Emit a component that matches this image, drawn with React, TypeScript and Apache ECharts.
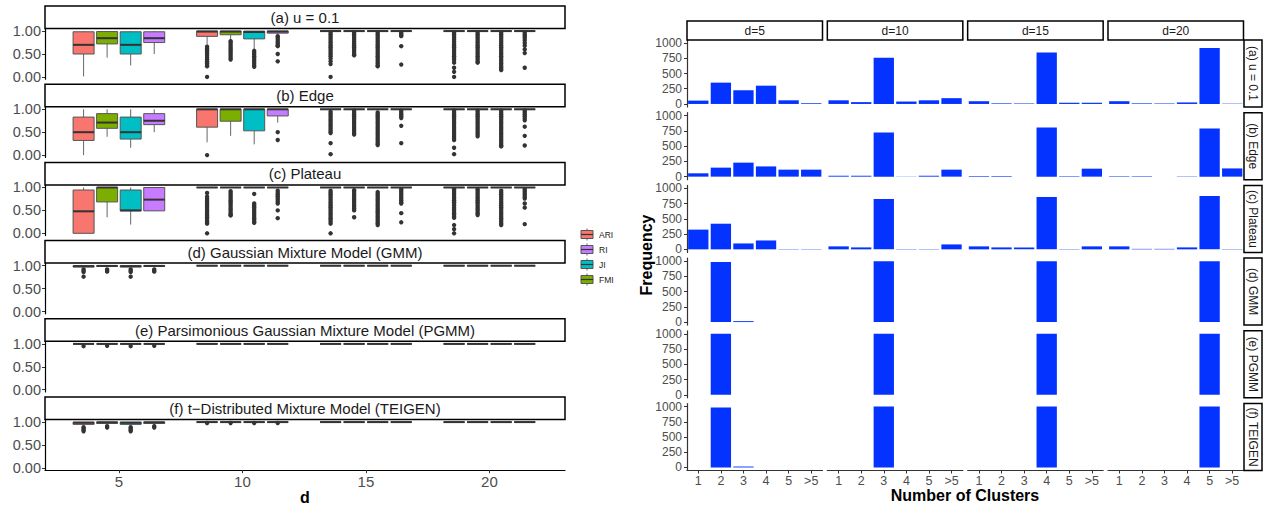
import React, { useEffect, useRef } from "react";
import * as echarts from "echarts";

const FONT = "'Liberation Sans', Arial, Helvetica, sans-serif";

// ---------- Left chart: boxplots ----------
const METRICS = ["ARI", "FMI", "JI", "RI"];
const METRIC_COLORS = ["#F8766D", "#7CAE00", "#00BFC4", "#C77CFF"];
const LEGEND_ORDER = ["ARI", "RI", "JI", "FMI"];
const SCORE_TICKS = [0, 0.25, 0.5, 0.75, 1];
const D_TICKS = [5, 10, 15, 20];
const BOX_PANELS = [
  "(a) u = 0.1",
  "(b) Edge",
  "(c) Plateau",
  "(d) Gaussian Mixture Model (GMM)",
  "(e) Parsimonious Gaussian Mixture Model (PGMM)",
  "(f) t\u2212Distributed Mixture Model (TEIGEN)",
];

// [d, metric, min, q1, median, q3, max]
const BOX_U01 = [
  [5, "ARI", 0.01, 0.5, 0.7, 0.985, 1], [5, "FMI", 0.42, 0.72, 0.845, 0.99, 1],
  [5, "JI", 0.25, 0.5, 0.7, 0.985, 1], [5, "RI", 0.5, 0.75, 0.845, 0.985, 1],
  [10, "ARI", 0.7, 0.885, 0.99, 1, 1], [10, "FMI", 0.8, 0.92, 0.99, 1, 1],
  [10, "JI", 0.61, 0.83, 0.98, 1, 1], [10, "RI", 0.93, 0.955, 0.99, 1, 1],
  [15, "ARI", 1, 1, 1, 1, 1], [15, "FMI", 1, 1, 1, 1, 1], [15, "JI", 1, 1, 1, 1, 1], [15, "RI", 1, 1, 1, 1, 1],
  [20, "ARI", 1, 1, 1, 1, 1], [20, "FMI", 1, 1, 1, 1, 1], [20, "JI", 1, 1, 1, 1, 1], [20, "RI", 1, 1, 1, 1, 1],
];
const BOX_EDGE = [
  [5, "ARI", 0, 0.32, 0.5, 0.83, 1], [5, "FMI", 0.4, 0.585, 0.71, 0.905, 1],
  [5, "JI", 0.16, 0.35, 0.5, 0.83, 1], [5, "RI", 0.5, 0.665, 0.75, 0.905, 1],
  [10, "ARI", 0.28, 0.61, 1, 1, 1], [10, "FMI", 0.42, 0.74, 1, 1, 1],
  [10, "JI", 0.235, 0.53, 1, 1, 1], [10, "RI", 0.71, 0.855, 1, 1, 1],
  [15, "ARI", 1, 1, 1, 1, 1], [15, "FMI", 1, 1, 1, 1, 1], [15, "JI", 1, 1, 1, 1, 1], [15, "RI", 1, 1, 1, 1, 1],
  [20, "ARI", 1, 1, 1, 1, 1], [20, "FMI", 1, 1, 1, 1, 1], [20, "JI", 1, 1, 1, 1, 1], [20, "RI", 1, 1, 1, 1, 1],
];
const BOX_PLATEAU = [
  [5, "ARI", 0, 0, 0.48, 0.945, 1], [5, "FMI", 0.35, 0.685, 1, 1, 1],
  [5, "JI", 0.19, 0.49, 0.5, 0.945, 1], [5, "RI", 0.49, 0.49, 0.735, 1, 1],
  [10, "ARI", 1, 1, 1, 1, 1], [10, "FMI", 1, 1, 1, 1, 1], [10, "JI", 1, 1, 1, 1, 1], [10, "RI", 1, 1, 1, 1, 1],
  [15, "ARI", 1, 1, 1, 1, 1], [15, "FMI", 1, 1, 1, 1, 1], [15, "JI", 1, 1, 1, 1, 1], [15, "RI", 1, 1, 1, 1, 1],
  [20, "ARI", 1, 1, 1, 1, 1], [20, "FMI", 1, 1, 1, 1, 1], [20, "JI", 1, 1, 1, 1, 1], [20, "RI", 1, 1, 1, 1, 1],
];
const BOX_GMM = [
  [5, "ARI", 0.96, 0.97, 0.99, 1, 1], [5, "FMI", 0.975, 0.985, 0.995, 1, 1],
  [5, "JI", 0.96, 0.97, 0.99, 1, 1], [5, "RI", 0.975, 0.985, 0.995, 1, 1],
  [10, "ARI", 1, 1, 1, 1, 1], [10, "FMI", 1, 1, 1, 1, 1], [10, "JI", 1, 1, 1, 1, 1], [10, "RI", 1, 1, 1, 1, 1],
  [15, "ARI", 1, 1, 1, 1, 1], [15, "FMI", 1, 1, 1, 1, 1], [15, "JI", 1, 1, 1, 1, 1], [15, "RI", 1, 1, 1, 1, 1],
  [20, "ARI", 1, 1, 1, 1, 1], [20, "FMI", 1, 1, 1, 1, 1], [20, "JI", 1, 1, 1, 1, 1], [20, "RI", 1, 1, 1, 1, 1],
];
const BOX_PGMM = [
  [5, "ARI", 1, 1, 1, 1, 1], [5, "FMI", 1, 1, 1, 1, 1], [5, "JI", 1, 1, 1, 1, 1], [5, "RI", 1, 1, 1, 1, 1],
  [10, "ARI", 1, 1, 1, 1, 1], [10, "FMI", 1, 1, 1, 1, 1], [10, "JI", 1, 1, 1, 1, 1], [10, "RI", 1, 1, 1, 1, 1],
  [15, "ARI", 1, 1, 1, 1, 1], [15, "FMI", 1, 1, 1, 1, 1], [15, "JI", 1, 1, 1, 1, 1], [15, "RI", 1, 1, 1, 1, 1],
  [20, "ARI", 1, 1, 1, 1, 1], [20, "FMI", 1, 1, 1, 1, 1], [20, "JI", 1, 1, 1, 1, 1], [20, "RI", 1, 1, 1, 1, 1],
];
const BOX_TEIGEN = [
  [5, "ARI", 0.93, 0.95, 0.985, 1, 1], [5, "FMI", 0.95, 0.97, 0.995, 1, 1],
  [5, "JI", 0.93, 0.95, 0.985, 1, 1], [5, "RI", 0.95, 0.97, 0.995, 1, 1],
  [10, "ARI", 1, 1, 1, 1, 1], [10, "FMI", 1, 1, 1, 1, 1], [10, "JI", 1, 1, 1, 1, 1], [10, "RI", 1, 1, 1, 1, 1],
  [15, "ARI", 1, 1, 1, 1, 1], [15, "FMI", 1, 1, 1, 1, 1], [15, "JI", 1, 1, 1, 1, 1], [15, "RI", 1, 1, 1, 1, 1],
  [20, "ARI", 1, 1, 1, 1, 1], [20, "FMI", 1, 1, 1, 1, 1], [20, "JI", 1, 1, 1, 1, 1], [20, "RI", 1, 1, 1, 1, 1],
];

// outliers: [d, metric, values]
const OUT_U01 = [
  [10, "ARI", [0.66, 0.62, 0.58, 0.54, 0.5, 0.46, 0.42, 0.38, 0.34, 0.3, 0.26, 0.23, 0]],
  [10, "FMI", [0.78, 0.74, 0.7, 0.66, 0.62, 0.58, 0.54, 0.5, 0.46, 0.42, 0.38]],
  [10, "JI", [0.57, 0.53, 0.49, 0.45, 0.41, 0.37, 0.33, 0.29, 0.25, 0.22]],
  [10, "RI", [0.89, 0.85, 0.81, 0.77, 0.73, 0.69, 0.67, 0.5, 0.34]],
  [15, "ARI", [0.97, 0.93, 0.89, 0.85, 0.81, 0.77, 0.73, 0.69, 0.65, 0.61, 0.57, 0.53, 0.49, 0.45, 0.4, 0.34, 0.28, 0]],
  [15, "FMI", [0.97, 0.93, 0.89, 0.85, 0.81, 0.77, 0.73, 0.69, 0.65, 0.61, 0.57, 0.53, 0.49, 0.47]],
  [15, "JI", [0.97, 0.93, 0.89, 0.85, 0.81, 0.77, 0.73, 0.69, 0.65, 0.61, 0.57, 0.53, 0.49, 0.45, 0.41, 0.37, 0.33, 0.29, 0.25, 0.23]],
  [15, "RI", [0.97, 0.94, 0.91, 0.89, 0.67, 0.27]],
  [20, "ARI", [0.97, 0.93, 0.89, 0.85, 0.81, 0.77, 0.73, 0.69, 0.65, 0.61, 0.57, 0.53, 0.49, 0.45, 0.41, 0.37, 0.31, 0.2, 0.11, 0]],
  [20, "FMI", [0.97, 0.93, 0.89, 0.85, 0.81, 0.77, 0.73, 0.69, 0.65, 0.61, 0.57, 0.53, 0.49, 0.45, 0.41, 0.37, 0.33, 0.31]],
  [20, "JI", [0.97, 0.93, 0.89, 0.85, 0.81, 0.77, 0.73, 0.69, 0.65, 0.61, 0.57, 0.53, 0.49, 0.45, 0.41, 0.37, 0.33, 0.29, 0.25, 0.21, 0.17, 0.15]],
  [20, "RI", [0.97, 0.93, 0.89, 0.85, 0.8, 0.74, 0.68, 0.6, 0.52, 0.2]],
];
const OUT_EDGE = [
  [10, "ARI", [0]],
  [10, "RI", [0.5, 0.33]],
  [15, "ARI", [0.95, 0.91, 0.87, 0.83, 0.79, 0.75, 0.71, 0.67, 0.63, 0.59, 0.55, 0.51, 0.48, 0.26, 0.02]],
  [15, "FMI", [0.97, 0.93, 0.89, 0.85, 0.81, 0.77, 0.73, 0.69, 0.65, 0.61, 0.57, 0.53, 0.49, 0.45]],
  [15, "JI", [0.93, 0.89, 0.85, 0.81, 0.77, 0.73, 0.69, 0.65, 0.61, 0.57, 0.53, 0.49, 0.45, 0.41, 0.37, 0.33, 0.29, 0.25, 0.22]],
  [15, "RI", [0.97, 0.93, 0.89, 0.85, 0.81, 0.64, 0.26]],
  [20, "ARI", [0.97, 0.93, 0.89, 0.85, 0.81, 0.77, 0.73, 0.69, 0.65, 0.61, 0.57, 0.53, 0.49, 0.45, 0.41, 0.37, 0.33, 0.16, 0.02]],
  [20, "FMI", [0.97, 0.93, 0.89, 0.85, 0.81, 0.77, 0.73, 0.69, 0.65, 0.61, 0.57, 0.53, 0.49, 0.45, 0.41]],
  [20, "JI", [0.97, 0.93, 0.89, 0.85, 0.81, 0.77, 0.73, 0.69, 0.65, 0.61, 0.57, 0.53, 0.49, 0.45, 0.41, 0.37, 0.33, 0.29, 0.25, 0.21, 0.19]],
  [20, "RI", [0.97, 0.93, 0.89, 0.85, 0.8, 0.76, 0.62, 0.42, 0.21]],
];
const OUT_PLATEAU = [
  [10, "ARI", [0.88, 0.8, 0.75, 0.71, 0.67, 0.63, 0.59, 0.55, 0.51, 0.47, 0.43, 0.39, 0.35, 0.31, 0.27, 0.23, 0.21, 0]],
  [10, "FMI", [0.92, 0.88, 0.84, 0.8, 0.76, 0.72, 0.68, 0.64, 0.6, 0.56, 0.52, 0.48, 0.44, 0.4, 0.39]],
  [10, "JI", [0.86, 0.65, 0.61, 0.57, 0.53, 0.49, 0.45, 0.41, 0.37, 0.33, 0.29, 0.25, 0.23]],
  [10, "RI", [0.93, 0.89, 0.85, 0.81, 0.77, 0.73, 0.69, 0.65, 0.5, 0.33]],
  [15, "ARI", [0.93, 0.89, 0.85, 0.81, 0.77, 0.73, 0.69, 0.65, 0.61, 0.57, 0.53, 0.49, 0.45, 0.41, 0.37, 0.33, 0.29, 0.25, 0.21, 0]],
  [15, "FMI", [0.94, 0.9, 0.86, 0.82, 0.78, 0.74, 0.7, 0.66, 0.62, 0.58, 0.54, 0.5, 0.35]],
  [15, "JI", [0.9, 0.86, 0.82, 0.78, 0.74, 0.7, 0.66, 0.62, 0.58, 0.54, 0.5, 0.46, 0.42, 0.38, 0.34, 0.3, 0.26, 0.22, 0.18]],
  [15, "RI", [0.96, 0.92, 0.88, 0.84, 0.8, 0.76, 0.72, 0.68, 0.65, 0.44, 0.24]],
  [20, "ARI", [0.96, 0.92, 0.88, 0.84, 0.8, 0.76, 0.72, 0.68, 0.64, 0.6, 0.56, 0.52, 0.48, 0.44, 0.4, 0.36, 0.34, 0.18, 0.09, 0]],
  [20, "FMI", [0.96, 0.92, 0.88, 0.84, 0.8, 0.76, 0.72, 0.68, 0.64, 0.6, 0.56, 0.52, 0.48, 0.44, 0.4]],
  [20, "JI", [0.93, 0.89, 0.85, 0.81, 0.77, 0.73, 0.69, 0.65, 0.61, 0.57, 0.53, 0.49, 0.45, 0.41, 0.37, 0.33, 0.29, 0.25, 0.21, 0.18]],
  [20, "RI", [0.96, 0.92, 0.88, 0.84, 0.8, 0.76, 0.65, 0.56, 0.2]],
];
const OUT_GMM = [
  [5, "ARI", [0.92, 0.89, 0.86, 0.76]], [5, "FMI", [0.92, 0.89, 0.87]],
  [5, "JI", [0.92, 0.89, 0.86, 0.76]], [5, "RI", [0.92, 0.89, 0.87]],
];
const OUT_PGMM = [
  [5, "ARI", [0.95]], [5, "FMI", [0.96]], [5, "JI", [0.95]], [5, "RI", [0.96]],
];
const OUT_TEIGEN = [
  [5, "ARI", [0.89, 0.86, 0.83, 0.8]], [5, "FMI", [0.91, 0.88]],
  [5, "JI", [0.89, 0.86, 0.83, 0.8]], [5, "RI", [0.91, 0.88]],
  [10, "ARI", [0.98]], [10, "FMI", [0.98]], [10, "JI", [0.98]], [10, "RI", [0.98]],
];

const BOX_DATA = [BOX_U01, BOX_EDGE, BOX_PLATEAU, BOX_GMM, BOX_PGMM, BOX_TEIGEN];
const OUT_DATA = [OUT_U01, OUT_EDGE, OUT_PLATEAU, OUT_GMM, OUT_PGMM, OUT_TEIGEN];

// ---------- Right chart: frequency bars ----------
const CLUSTER_LABELS = ["1", "2", "3", "4", "5", ">5"];
const D_STRIPS = ["d=5", "d=10", "d=15", "d=20"];
const ROW_STRIPS = ["(a) u = 0.1", "(b) Edge", "(c) Plateau", "(d) GMM", "(e) PGMM", "(f) TEIGEN"];
const FREQ_TICKS = [0, 250, 500, 750, 1000];
const FREQ_U01 = [[55, 350, 225, 300, 60, 12], [60, 30, 760, 40, 60, 95], [45, 10, 8, 845, 20, 20], [45, 10, 8, 25, 920, 5]];
const FREQ_EDGE = [[55, 148, 230, 168, 115, 115], [15, 15, 723, 3, 15, 115], [10, 10, 0, 808, 8, 131], [8, 8, 0, 5, 792, 135]];
const FREQ_PLATEAU = [[324, 421, 97, 146, 5, 5], [49, 32, 826, 5, 5, 81], [49, 32, 32, 858, 5, 49], [49, 8, 8, 32, 875, 5]];
const FREQ_GMM = [[0, 985, 15, 0, 0, 0], [0, 0, 1000, 0, 0, 0], [0, 0, 0, 1000, 0, 0], [0, 0, 0, 0, 1000, 0]];
const FREQ_PGMM = [[0, 1000, 0, 0, 0, 0], [0, 0, 1000, 0, 0, 0], [0, 0, 0, 1000, 0, 0], [0, 0, 0, 0, 1000, 0]];
const FREQ_TEIGEN = [[0, 985, 15, 0, 0, 0], [0, 0, 1000, 0, 0, 0], [0, 0, 0, 1000, 0, 0], [0, 0, 0, 0, 1000, 0]];
const FREQ_ROWS = [FREQ_U01, FREQ_EDGE, FREQ_PLATEAU, FREQ_GMM, FREQ_PGMM, FREQ_TEIGEN];

// ---------- layout / style constants ----------
const DODGE = [-1.43, -0.477, 0.477, 1.43];
const BOX_WIDTH = 0.85;
const BAR_COLOR = "#0433ff";
const AXIS_TEXT = "#4d4d4d";

function textEl(x: number, y: number, text: string, size: number, opts: any = {}) {
  return {
    type: "text",
    x,
    y,
    rotation: opts.rotation || 0,
    silent: true,
    z: 100,
    style: {
      text,
      fill: opts.color || "#1a1a1a",
      fontSize: size,
      fontFamily: FONT,
      fontWeight: opts.bold ? "bold" : "normal",
      align: opts.align || "center",
      textAlign: opts.align || "center",
      verticalAlign: "middle",
      textVerticalAlign: "middle",
    },
  };
}

function stripRect(x: number, y: number, w: number, h: number) {
  return {
    type: "rect",
    silent: true,
    z: 90,
    shape: { x, y, width: w, height: h },
    style: { fill: "#ffffff", stroke: "#000000", lineWidth: 1.5 },
  };
}

function renderBox(params: any, api: any) {
  const d = api.value(0);
  const m = api.value(1);
  const xc = d + DODGE[m];
  const pMin = api.coord([xc, api.value(2)]);
  const pQ1 = api.coord([xc, api.value(3)]);
  const pMed = api.coord([xc, api.value(4)]);
  const pQ3 = api.coord([xc, api.value(5)]);
  const pMax = api.coord([xc, api.value(6)]);
  const w = api.size([BOX_WIDTH, 0])[0];
  const cx = pMed[0];
  return {
    type: "group",
    children: [
      { type: "line", shape: { x1: cx, y1: pMax[1], x2: cx, y2: pQ3[1] }, style: { stroke: "#666", lineWidth: 1 } },
      { type: "line", shape: { x1: cx, y1: pQ1[1], x2: cx, y2: pMin[1] }, style: { stroke: "#666", lineWidth: 1 } },
      {
        type: "rect",
        shape: { x: cx - w / 2, y: pQ3[1], width: w, height: Math.max(pQ1[1] - pQ3[1], 0.01) },
        style: { fill: METRIC_COLORS[m], stroke: "#555", lineWidth: 1 },
      },
      { type: "line", shape: { x1: cx - w / 2, y1: pMed[1], x2: cx + w / 2, y2: pMed[1] }, style: { stroke: "#333", lineWidth: 2 } },
    ],
  };
}

function renderOutlier(params: any, api: any) {
  const d = api.value(0);
  const m = api.value(1);
  const p = api.coord([d + DODGE[m], api.value(2)]);
  return { type: "circle", shape: { cx: p[0], cy: p[1], r: 2.2 }, style: { fill: "#333333" } };
}

function buildOption() {
  const grid: any[] = [];
  const xAxis: any[] = [];
  const yAxis: any[] = [];
  const series: any[] = [];
  const elements: any[] = [];

  // ---- left boxplot panels
  const L_X0 = 45;
  const L_W = 520;
  BOX_PANELS.forEach((title, i) => {
    const sTop = 6 + 78.2 * i;
    const pTop = sTop + 22.8;
    const isBottom = i === BOX_PANELS.length - 1;
    grid.push({ left: L_X0, top: pTop, width: L_W, height: 50.4 });
    xAxis.push({
      gridIndex: i,
      type: "value",
      min: 2.008,
      max: 23.06,
      axisLine: { show: isBottom, onZero: false, lineStyle: { color: "#000", width: 1.2 } },
      axisTick: { show: isBottom, customValues: D_TICKS, length: 3, lineStyle: { color: "#333" } },
      axisLabel: { show: isBottom, customValues: D_TICKS, color: AXIS_TEXT, fontSize: 15, fontFamily: FONT, margin: 4 },
      splitLine: { show: false },
    });
    yAxis.push({
      gridIndex: i,
      type: "value",
      min: -0.05,
      max: 1.05,
      axisLine: { show: true, onZero: false, lineStyle: { color: "#000", width: 1.2 } },
      axisTick: { show: true, customValues: SCORE_TICKS, length: 3, lineStyle: { color: "#333" } },
      axisLabel: {
        show: true,
        customValues: SCORE_TICKS,
        formatter: (v: number) => Number(v).toFixed(2),
        color: AXIS_TEXT,
        fontSize: 14.5,
        lineHeight: 12,
        fontFamily: FONT,
        margin: 4,
        showMinLabel: true,
        showMaxLabel: true,
        hideOverlap: false,
      },
      splitLine: { show: false },
    });
    const boxData = BOX_DATA[i].map((r: any) => [r[0], METRICS.indexOf(r[1]), r[2], r[3], r[4], r[5], r[6]]);
    const outData: any[] = [];
    OUT_DATA[i].forEach((o: any) => {
      o[2].forEach((v: number) => outData.push([o[0], METRICS.indexOf(o[1]), v]));
    });
    series.push({
      type: "custom",
      xAxisIndex: i,
      yAxisIndex: i,
      silent: true,
      encode: { x: 0, y: 4 },
      renderItem: renderBox,
      data: boxData,
      z: 2,
    });
    series.push({
      type: "custom",
      xAxisIndex: i,
      yAxisIndex: i,
      silent: true,
      encode: { x: 0, y: 2 },
      renderItem: renderOutlier,
      data: outData,
      z: 3,
    });
    elements.push(stripRect(L_X0, sTop, L_W, 22.5));
    elements.push(textEl(L_X0 + L_W / 2, sTop + 11.5, title, 15));
  });
  elements.push(textEl(305, 497, "d", 16, { bold: true, color: "#000" }));

  // legend (boxplot glyph keys)
  LEGEND_ORDER.forEach((name, k) => {
    const cy = 234.5 + 15 * k;
    const color = METRIC_COLORS[METRICS.indexOf(name)];
    elements.push({ type: "line", silent: true, shape: { x1: 587, y1: cy - 6, x2: 587, y2: cy + 6 }, style: { stroke: "#666", lineWidth: 1 } });
    elements.push({
      type: "rect",
      silent: true,
      shape: { x: 581, y: cy - 4, width: 12, height: 8 },
      style: { fill: color, stroke: "#555", lineWidth: 1 },
    });
    elements.push({ type: "line", silent: true, shape: { x1: 581, y1: cy, x2: 593, y2: cy }, style: { stroke: "#333", lineWidth: 1.2 } });
    elements.push(textEl(599, cy, name, 8.5, { align: "left" }));
  });

  // ---- right frequency bar panels
  const colX = (c: number) => 687 + 140.33 * c;
  const rowY = (r: number) => 40 + 72.7 * r;
  const C_W = 135.5;
  const R_H = 67;
  FREQ_ROWS.forEach((rowVals, r) => {
    rowVals.forEach((vals, c) => {
      const gi = grid.length;
      grid.push({ left: colX(c), top: rowY(r), width: C_W, height: R_H });
      const isBottom = r === FREQ_ROWS.length - 1;
      xAxis.push({
        gridIndex: gi,
        type: "category",
        data: CLUSTER_LABELS,
        boundaryGap: true,
        axisLine: { show: isBottom, onZero: false, lineStyle: { color: "#333", width: 1.2 } },
        axisTick: { show: isBottom, alignWithLabel: true, length: 3, lineStyle: { color: "#333" } },
        axisLabel: { show: isBottom, color: AXIS_TEXT, fontSize: 12.5, fontFamily: FONT, margin: 4, interval: 0 },
        splitLine: { show: false },
      });
      yAxis.push({
        gridIndex: gi,
        type: "value",
        min: -50,
        max: 1050,
        axisLine: { show: c === 0, onZero: false, lineStyle: { color: "#333", width: 1.2 } },
        axisTick: { show: c === 0, customValues: FREQ_TICKS, length: 3, lineStyle: { color: "#333" } },
        axisLabel: {
          show: c === 0,
          customValues: FREQ_TICKS,
          formatter: (v: number) => String(Math.round(v)),
          color: AXIS_TEXT,
          fontSize: 12,
          fontFamily: FONT,
          margin: 5,
          showMinLabel: true,
          showMaxLabel: true,
        },
        splitLine: { show: false },
      });
      series.push({
        type: "bar",
        xAxisIndex: gi,
        yAxisIndex: gi,
        data: vals,
        barWidth: "90%",
        silent: true,
        itemStyle: { color: BAR_COLOR },
      });
    });
    elements.push(stripRect(1244, rowY(r), 18, R_H));
    elements.push(textEl(1253, rowY(r) + R_H / 2, ROW_STRIPS[r], 12, { rotation: -Math.PI / 2 }));
  });
  D_STRIPS.forEach((name, c) => {
    elements.push(stripRect(colX(c), 21, C_W, 19));
    elements.push(textEl(colX(c) + C_W / 2, 30.5, name, 12));
  });
  elements.push(textEl(965, 495, "Number of Clusters", 16, { bold: true, color: "#000" }));
  elements.push(textEl(646, 255, "Frequency", 16, { bold: true, color: "#000", rotation: Math.PI / 2 }));

  return {
    animation: false,
    backgroundColor: "#ffffff",
    grid,
    xAxis,
    yAxis,
    series,
    graphic: { elements },
  };
}

export default function App() {
  const ref = useRef<HTMLDivElement>(null);
  useEffect(() => {
    if (!ref.current) return;
    const chart = echarts.init(ref.current, null, { renderer: "svg" });
    chart.setOption(buildOption() as any);
    return () => chart.dispose();
  }, []);
  return (
    <div
      ref={ref}
      style={{ position: "absolute", left: 0, top: 0, width: 1268, height: 506, background: "#ffffff" }}
    />
  );
}
